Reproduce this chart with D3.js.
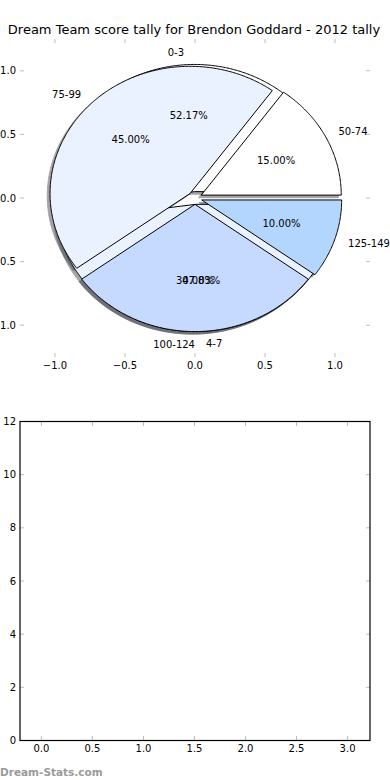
<!DOCTYPE html>
<meta charset="utf-8">
<style>
body { margin: 0; background: #fff; }
svg { font-family: "DejaVu Sans", sans-serif; }
.tick-mark { stroke: #bdbdbd; stroke-width: 1; }
.tick-label { font-size: 10px; fill: #000; }
.pie-text { font-size: 10px; fill: #000; }
</style>
<body>
<script src="https://cdn.jsdelivr.net/npm/d3@7"></script>
<script>

// pie drawn second (on top)
var outerLabels = ["50-74", "75-99", "100-124", "125-149"];
var outerValues = [3, 9, 6, 2];
// pie drawn first (underneath)
var innerLabels = ["0-3", "4-7"];
var innerValues = [12, 11];

var sliceColors = ["#FFFFFF", "#EBF2FF", "#C6D9FF", "#B3D6FF"];

var topTicks = [-1.0, -0.5, 0.0, 0.5, 1.0];
var bottomXTicks = [0.0, 0.5, 1.0, 1.5, 2.0, 2.5, 3.0];
var bottomYTicks = [0, 2, 4, 6, 8, 10, 12];

var W = 390, H = 780;
var explode = 0.05;

var svg = d3.select("body").append("svg")
    .attr("width", W)
    .attr("height", H);

// title
svg.append("text")
    .attr("x", 194)
    .attr("y", 34)
    .attr("text-anchor", "middle")
    .style("font-size", "13px")
    .text("Dream Team score tally for Brendon Goddard - 2012 tally");

// ---------- top axes (pie) ----------
var x = d3.scaleLinear().domain([-1.25, 1.25]).range([20, 370]);
var y = d3.scaleLinear().domain([-1.25, 1.25]).range([357, 39]);

var fmt = function(v) { return d3.format(".1f")(v).replace("-", "\u2212"); };

// ticks, all four sides, no frame
topTicks.forEach(function(t) {
  svg.append("line").attr("class", "tick-mark")
     .attr("x1", x(t)).attr("x2", x(t)).attr("y1", 357).attr("y2", 353);
  svg.append("line").attr("class", "tick-mark")
     .attr("x1", x(t)).attr("x2", x(t)).attr("y1", 39).attr("y2", 43);
  svg.append("line").attr("class", "tick-mark")
     .attr("x1", 20).attr("x2", 24).attr("y1", y(t)).attr("y2", y(t));
  svg.append("line").attr("class", "tick-mark")
     .attr("x1", 370).attr("x2", 366).attr("y1", y(t)).attr("y2", y(t));
  svg.append("text").attr("class", "tick-label")
     .attr("x", x(t)).attr("y", 369).attr("text-anchor", "middle")
     .text(fmt(t));
  svg.append("text").attr("class", "tick-label")
     .attr("x", 16).attr("y", y(t)).attr("dy", "0.35em").attr("text-anchor", "end")
     .text(fmt(t));
});

var pie = d3.pie().sort(null).startAngle(0).endAngle(2 * Math.PI);

var line = d3.line()
    .x(function(p) { return x(p[0]); })
    .y(function(p) { return y(p[1]); });

function wedgePoints(d, dx, dy) {
  var mid = (d.startAngle + d.endAngle) / 2;
  var cx = explode * Math.cos(mid) + dx, cy = explode * Math.sin(mid) + dy;
  var pts = [[cx, cy]];
  var n = Math.max(2, Math.ceil((d.endAngle - d.startAngle) / 0.01));
  for (var i = 0; i <= n; i++) {
    var a = d.startAngle + (d.endAngle - d.startAngle) * i / n;
    pts.push([cx + Math.cos(a), cy + Math.sin(a)]);
  }
  pts.push([cx, cy]);
  return pts;
}

function darker(c) {
  var r = d3.rgb(c);
  return d3.rgb(r.r * 0.3, r.g * 0.3, r.b * 0.3).toString();
}

var pies = [
  { labels: innerLabels, arcs: pie(innerValues) },
  { labels: outerLabels, arcs: pie(outerValues) }
];

var total = function(arcs) { return d3.sum(arcs, function(a) { return a.value; }); };

// shadows first (lower zorder)
pies.forEach(function(p) {
  svg.append("g").selectAll("path")
    .data(p.arcs)
    .enter().append("path")
    .attr("d", function(d) { return line(wedgePoints(d, -0.02, -0.02)); })
    .attr("fill", function(d, i) { return darker(sliceColors[i]); })
    .attr("stroke", function(d, i) { return darker(sliceColors[i]); })
    .attr("stroke-width", 1)
    .attr("opacity", 0.5);
});

// wedges
pies.forEach(function(p) {
  svg.append("g").selectAll("path")
    .data(p.arcs)
    .enter().append("path")
    .attr("d", function(d) { return line(wedgePoints(d, 0, 0)); })
    .attr("fill", function(d, i) { return sliceColors[i]; })
    .attr("stroke", "#000")
    .attr("stroke-width", 1)
    .attr("stroke-linejoin", "miter");
});

// labels + percentages
pies.forEach(function(p) {
  var sum = total(p.arcs);
  p.arcs.forEach(function(d, i) {
    var mid = (d.startAngle + d.endAngle) / 2;
    var cx = explode * Math.cos(mid), cy = explode * Math.sin(mid);
    var xt = cx + 1.1 * Math.cos(mid), yt = cy + 1.1 * Math.sin(mid);
    svg.append("text").attr("class", "pie-text")
      .attr("x", x(xt)).attr("y", y(yt)).attr("dy", "0.35em")
      .attr("text-anchor", xt > 0 ? "start" : "end")
      .text(p.labels[i]);
    var xp = cx + 0.6 * Math.cos(mid), yp = cy + 0.6 * Math.sin(mid);
    svg.append("text").attr("class", "pie-text")
      .attr("x", x(xp)).attr("y", y(yp)).attr("dy", "0.35em")
      .attr("text-anchor", "middle")
      .text(d3.format(".2f")(d.value / sum * 100) + "%");
  });
});

// ---------- bottom axes (empty) ----------
var x2 = d3.scaleLinear().domain([-0.21, 3.22]).range([20, 370]);
var y2 = d3.scaleLinear().domain([0, 12]).range([740.5, 421.5]);

bottomXTicks.forEach(function(t) {
  svg.append("line").attr("class", "tick-mark")
     .attr("x1", x2(t)).attr("x2", x2(t)).attr("y1", 740).attr("y2", 736);
  svg.append("line").attr("class", "tick-mark")
     .attr("x1", x2(t)).attr("x2", x2(t)).attr("y1", 422).attr("y2", 426);
  svg.append("text").attr("class", "tick-label")
     .attr("x", x2(t)).attr("y", 752).attr("text-anchor", "middle")
     .text(d3.format(".1f")(t));
});
bottomYTicks.forEach(function(t) {
  svg.append("line").attr("class", "tick-mark")
     .attr("x1", 20).attr("x2", 24).attr("y1", y2(t)).attr("y2", y2(t));
  svg.append("line").attr("class", "tick-mark")
     .attr("x1", 370).attr("x2", 366).attr("y1", y2(t)).attr("y2", y2(t));
  svg.append("text").attr("class", "tick-label")
     .attr("x", 16).attr("y", y2(t)).attr("dy", "0.35em").attr("text-anchor", "end")
     .text(t);
});

svg.append("rect")
    .attr("x", x2.range()[0]).attr("y", y2.range()[1])
    .attr("width", x2.range()[1] - x2.range()[0])
    .attr("height", y2.range()[0] - y2.range()[1])
    .attr("fill", "none")
    .attr("stroke", "#000")
    .attr("stroke-width", 1.2);

// watermark
svg.append("text")
    .attr("x", 0)
    .attr("y", 776)
    .style("font-size", "10.5px")
    .style("font-weight", "bold")
    .style("fill", "#9a9a9a")
    .text("Dream-Stats.com");

</script>
</body>
